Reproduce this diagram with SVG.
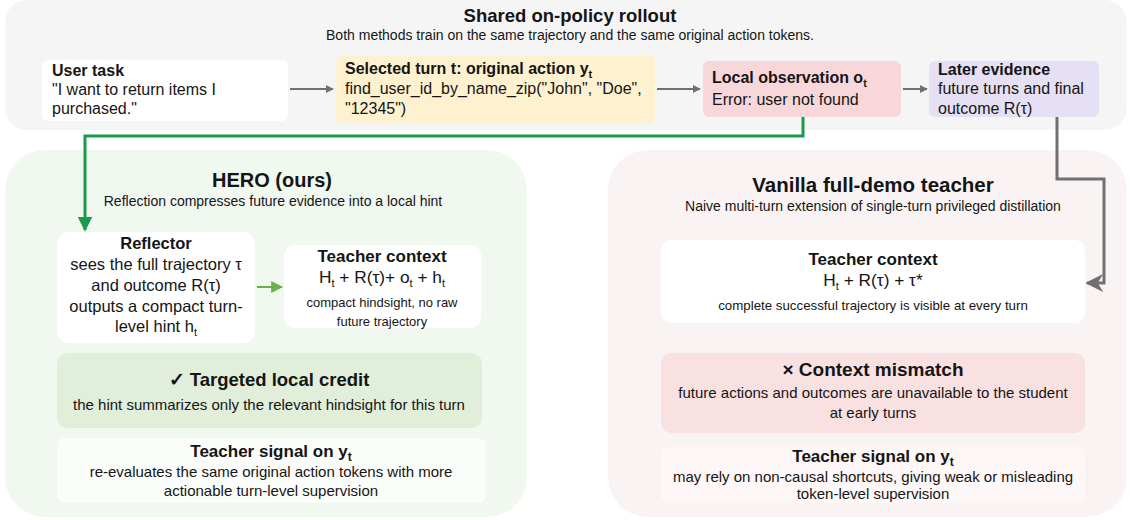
<svg xmlns="http://www.w3.org/2000/svg" width="1130" height="520" viewBox="0 0 1130 520">
<defs>
<style>
text{font-family:"Liberation Sans",Arial,sans-serif;fill:#151515}
.b{font-weight:bold;font-size:16px}
.r{font-size:16px}
.rr{font-size:16.5px}
.s{font-size:13px}
.pt{font-weight:bold;font-size:20px}
.ps{font-size:14px}
.h{font-weight:bold;font-size:18.5px}
.m{font-size:15px}
.c{text-anchor:middle}
.sub{font-size:11px}
</style>
<marker id="ag" viewBox="0 0 10 10" refX="9" refY="5" markerWidth="8" markerHeight="8" markerUnits="userSpaceOnUse" orient="auto"><path d="M0,0 L10,5 L0,10 z" fill="#707070"/></marker>
<marker id="ag2" viewBox="0 0 10 10" refX="9" refY="5" markerWidth="6" markerHeight="6" orient="auto"><path d="M0,0 L10,5 L0,10 L3,5 z" fill="#707070"/></marker>
<marker id="agr" viewBox="0 0 10 10" refX="9" refY="5" markerWidth="5" markerHeight="5" orient="auto"><path d="M0,0 L10,5 L0,10 z" fill="#1a9a4c"/></marker>
<marker id="agl" viewBox="0 0 10 10" refX="9" refY="5" markerWidth="6" markerHeight="6" orient="auto"><path d="M0,0 L10,5 L0,10 z" fill="#6ab04c"/></marker>
</defs>

<g id="panel-shared">
<rect x="5" y="0" width="1122" height="130" rx="22" fill="#f5f5f5"/>
<text class="pt c" x="570" y="22" style="font-size:18.5px">Shared on-policy rollout</text>
<text class="ps c" x="570" y="40">Both methods train on the same trajectory and the same original action tokens.</text>
</g>

<g id="panel-hero">
<rect x="5" y="150" width="522" height="367" rx="40" fill="#f1f8ef"/>
<text class="pt c" x="272" y="187">HERO (ours)</text>
<text class="ps c" x="273" y="206">Reflection compresses future evidence into a local hint</text>
</g>

<g id="panel-vanilla">
<rect x="608" y="150" width="519" height="367" rx="40" fill="#f9f4f3"/>
<text class="pt c" x="873" y="192" style="font-size:20.5px">Vanilla full-demo teacher</text>
<text class="ps c" x="873" y="211">Naive multi-turn extension of single-turn privileged distillation</text>
</g>

<g id="user-task">
<rect x="42" y="60" width="246" height="61" rx="6" fill="#ffffff"/>
<text class="b" x="52" y="76">User task</text>
<text class="r" x="52" y="95">"I want to return items I</text>
<text class="r" x="52" y="114">purchased."</text>
</g>

<g id="selected-turn">
<rect x="336" y="56" width="319" height="68" rx="6" fill="#fdf1cf"/>
<text class="b" x="345" y="74">Selected turn t: original action y<tspan class="sub" dy="4">t</tspan></text>
<text class="r" x="345" y="94">find_user_id_by_name_zip("John", "Doe",</text>
<text class="r" x="345" y="114">"12345")</text>
</g>

<g id="local-observation">
<rect x="703" y="61" width="198" height="56" rx="6" fill="#f8d7da"/>
<text class="b" x="712" y="83">Local observation o<tspan class="sub" dy="4">t</tspan></text>
<text class="r" x="712" y="105">Error: user not found</text>
</g>

<g id="later-evidence">
<rect x="929" y="61" width="170" height="56" rx="6" fill="#e5e0f4"/>
<text class="b" x="938" y="75">Later evidence</text>
<text class="r" x="938" y="94">future turns and final</text>
<text class="r" x="938" y="114">outcome R(τ)</text>
</g>

<g id="reflector">
<rect x="57" y="232" width="198" height="111" rx="12" fill="#ffffff"/>
<text class="c" x="156" y="249" style="font-weight:bold;font-size:16.5px">Reflector</text>
<text class="rr c" x="156" y="270">sees the full trajectory τ</text>
<text class="rr c" x="156" y="291">and outcome R(τ)</text>
<text class="rr c" x="156" y="312">outputs a compact turn-</text>
<text class="rr c" x="156" y="332">level hint h<tspan class="sub" dy="4">t</tspan></text>
</g>

<g id="hero-teacher-context">
<rect x="284" y="245" width="197" height="83" rx="10" fill="#ffffff"/>
<text class="c" x="382" y="262" style="font-weight:bold;font-size:17px">Teacher context</text>
<text class="c" x="382" y="283" style="font-size:17.3px">H<tspan class="sub" dy="4">t</tspan><tspan dy="-4"> + R(τ)+ o</tspan><tspan class="sub" dy="4">t</tspan><tspan dy="-4"> + h</tspan><tspan class="sub" dy="4">t</tspan></text>
<text class="s c" x="382" y="307">compact hindsight, no raw</text>
<text class="s c" x="382" y="326">future trajectory</text>
</g>

<g id="targeted-credit">
<rect x="57" y="353" width="425" height="75" rx="10" fill="#e1eed9"/>
<text class="h c" x="269" y="386">✓ Targeted local credit</text>
<text class="m c" x="269" y="410">the hint summarizes only the relevant hindsight for this turn</text>
</g>

<g id="hero-teacher-signal">
<rect x="57" y="438" width="429" height="65" rx="8" fill="#fbfdfa"/>
<text class="c" x="271" y="457" style="font-weight:bold;font-size:17px">Teacher signal on y<tspan class="sub" style="font-size:12px" dy="4">t</tspan></text>
<text class="m c" x="271" y="477">re-evaluates the same original action tokens with more</text>
<text class="m c" x="271" y="496">actionable turn-level supervision</text>
</g>

<g id="vanilla-teacher-context">
<rect x="661" y="240" width="424" height="83" rx="10" fill="#ffffff"/>
<text class="c" x="873" y="265" style="font-weight:bold;font-size:17px">Teacher context</text>
<text class="c" x="873" y="286" style="font-size:17.3px">H<tspan class="sub" dy="4">t</tspan><tspan dy="-4"> + R(τ) + τ*</tspan></text>
<text class="c" x="873" y="310" style="font-size:13.3px">complete successful trajectory is visible at every turn</text>
</g>

<g id="context-mismatch">
<rect x="661" y="353" width="424" height="80" rx="10" fill="#f9e1e1"/>
<text class="h c" x="873" y="376" style="font-size:19px">× Context mismatch</text>
<text class="m c" x="873" y="398">future actions and outcomes are unavailable to the student</text>
<text class="m c" x="873" y="418">at early turns</text>
</g>

<g id="vanilla-teacher-signal">
<rect x="661" y="447" width="424" height="56" rx="8" fill="#fdf8f7"/>
<text class="c" x="873" y="462" style="font-weight:bold;font-size:17px">Teacher signal on y<tspan class="sub" style="font-size:12px" dy="4">t</tspan></text>
<text class="m c" x="873" y="482">may rely on non-causal shortcuts, giving weak or misleading</text>
<text class="m c" x="873" y="499">token-level supervision</text>
</g>

<g id="connectors" fill="none">
<line x1="290" y1="89" x2="333" y2="89" stroke="#707070" stroke-width="2" marker-end="url(#ag)"/>
<line x1="657" y1="89" x2="700" y2="89" stroke="#707070" stroke-width="2" marker-end="url(#ag)"/>
<line x1="903" y1="89" x2="927" y2="89" stroke="#707070" stroke-width="2" marker-end="url(#ag)"/>
<path d="M803,117 V136 H85 V230" stroke="#1a9a4c" stroke-width="3" marker-end="url(#agr)"/>
<path d="M1057,117 V179 H1104 V283 H1087" stroke="#707070" stroke-width="3" marker-end="url(#ag2)"/>
<line x1="257" y1="287" x2="282" y2="287" stroke="#6ab04c" stroke-width="2" marker-end="url(#agl)"/>
</g>
</svg>
